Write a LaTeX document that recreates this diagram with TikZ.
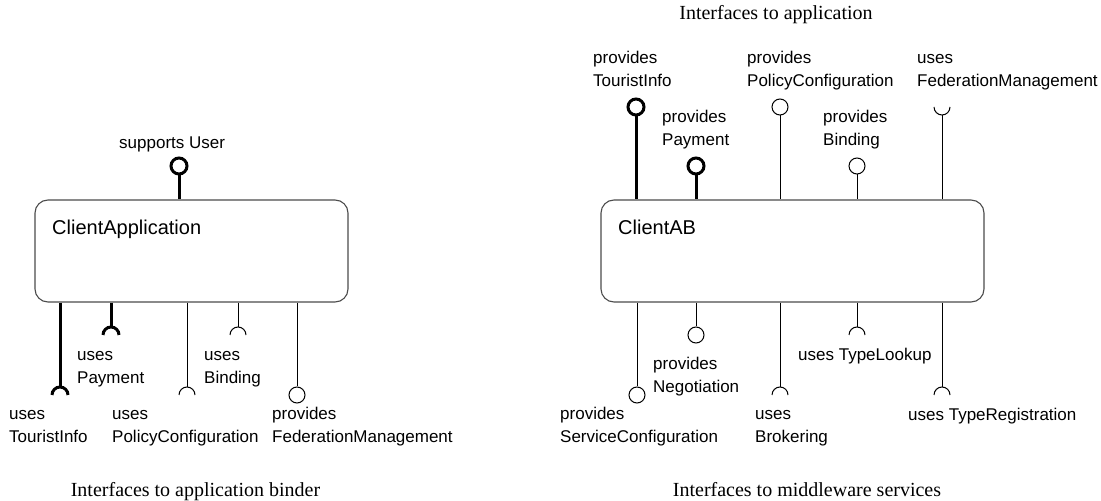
\documentclass[tikz,border=0pt]{standalone}
\usepackage{fontspec}
\setmainfont{Liberation Serif}
\newfontfamily\labelfont{Liberation Sans}
\begin{document}
\begin{tikzpicture}[x=1bp,y=-1bp,
  % two-line labels are placed by the baseline of their last line
  lbl/.style={font=\labelfont\fontsize{17bp}{23bp}\selectfont, align=left, anchor=base west, inner sep=0pt},
  ttl/.style={font=\labelfont\fontsize{20bp}{24bp}\selectfont, anchor=base west, inner sep=0pt},
  caption/.style={font=\fontsize{20bp}{24bp}\selectfont, anchor=base, inner sep=0pt},
  comp/.style={draw=black!70, line width=1.1bp, rounded corners=13bp, inner sep=0pt},
  wire/.style={line width=1bp},
  heavy/.style={line width=3bp},
  ball/.style={circle, draw, minimum size=16bp, inner sep=0pt, fill=white},
]
\useasboundingbox (0,0) rectangle (1101,501);

% ---------- ClientApplication ----------
\node[comp, minimum width=313bp, minimum height=102bp] (ca) at (191.5,251) {};
\node[ttl] (caT) at (52,234.5) {ClientApplication};

% provided interface on top
\node[ball, heavy] (pSU) at (179,166) {};
\draw[heavy] (pSU) -- (pSU |- ca.north);
\node[lbl] (tSU) at (119,149) {supports User};

% required interfaces below
\coordinate (uTI) at (60,395);
\draw[heavy] (ca.south -| uTI) -- ([yshift=8bp]uTI);
\draw[heavy] ([xshift=-8bp]uTI) arc[start angle=180,end angle=0,radius=8bp];
\node[lbl] (tTI) at (9,442.5) {uses\\TouristInfo};

\coordinate (uPA) at (111,335);
\draw[heavy] (ca.south -| uPA) -- ([yshift=8bp]uPA);
\draw[heavy] ([xshift=-8bp]uPA) arc[start angle=180,end angle=0,radius=8bp];
\node[lbl] (tPA) at (77,383.5) {uses\\Payment};

\coordinate (uPC) at (187,395);
\draw[wire] (ca.south -| uPC) -- ([yshift=8bp]uPC);
\draw[wire] ([xshift=-8bp]uPC) arc[start angle=180,end angle=0,radius=8bp];
\node[lbl] (tPC) at (112,442.5) {uses\\PolicyConfiguration};

\coordinate (uBI) at (238,335);
\draw[wire] (ca.south -| uBI) -- ([yshift=8bp]uBI);
\draw[wire] ([xshift=-8bp]uBI) arc[start angle=180,end angle=0,radius=8bp];
\node[lbl] (tBI) at (204,383.5) {uses\\Binding};

\node[ball, wire] (pFM) at (297,395) {};
\draw[wire] (pFM) -- (pFM |- ca.south);
\node[lbl] (tFM) at (272,442.5) {provides\\FederationManagement};

% ---------- ClientAB ----------
\node[comp, minimum width=383bp, minimum height=102bp] (ab) at (792.5,251) {};
\node[ttl] (abT) at (618,234.5) {ClientAB};

% interfaces to the application (top)
\node[ball, heavy] (pTI) at (636,107) {};
\draw[heavy] (pTI) -- (pTI |- ab.north);
\node[lbl] (aTI) at (593,87) {provides\\TouristInfo};

\node[ball, heavy] (pPA) at (696,166) {};
\draw[heavy] (pPA) -- (pPA |- ab.north);
\node[lbl] (aPA) at (662,146) {provides\\Payment};

\node[ball, wire] (pPC) at (780,107) {};
\draw[wire] (pPC) -- (pPC |- ab.north);
\node[lbl] (aPC) at (747,87) {provides\\PolicyConfiguration};

\node[ball, wire] (pBI) at (857,166) {};
\draw[wire] (pBI) -- (pBI |- ab.north);
\node[lbl] (aBI) at (823,146) {provides\\Binding};

\coordinate (uFM) at (942,107);
\draw[wire] (ab.north -| uFM) -- ([yshift=-8bp]uFM);
\draw[wire] ([xshift=-8bp]uFM) arc[start angle=180,end angle=360,radius=8bp];
\node[lbl] (aFM) at (917,87) {uses\\FederationManagement};

% interfaces to the middleware services (bottom)
\node[ball, wire] (pSC) at (637,395) {};
\draw[wire] (pSC) -- (pSC |- ab.south);
\node[lbl] (aSC) at (560,442.5) {provides\\ServiceConfiguration};

\node[ball, wire] (pNE) at (696,335) {};
\draw[wire] (pNE) -- (pNE |- ab.south);
\node[lbl] (aNE) at (653,392.5) {provides\\Negotiation};

\coordinate (uBR) at (780,395);
\draw[wire] (ab.south -| uBR) -- ([yshift=8bp]uBR);
\draw[wire] ([xshift=-8bp]uBR) arc[start angle=180,end angle=0,radius=8bp];
\node[lbl] (aBR) at (755,442.5) {uses\\Brokering};

\coordinate (uTL) at (857,335);
\draw[wire] (ab.south -| uTL) -- ([yshift=8bp]uTL);
\draw[wire] ([xshift=-8bp]uTL) arc[start angle=180,end angle=0,radius=8bp];
\node[lbl] (aTL) at (798,361) {uses TypeLookup};

\coordinate (uTR) at (942,395);
\draw[wire] (ab.south -| uTR) -- ([yshift=8bp]uTR);
\draw[wire] ([xshift=-8bp]uTR) arc[start angle=180,end angle=0,radius=8bp];
\node[lbl] (aTR) at (908,420) {uses TypeRegistration};

% ---------- captions ----------
\node[caption] (capA) at (776,20) {Interfaces to application};
\node[caption] (capB) at (195.5,496.5) {Interfaces to application binder};
\node[caption] (capM) at (807,496.5) {Interfaces to middleware services};
\end{tikzpicture}
\end{document}
